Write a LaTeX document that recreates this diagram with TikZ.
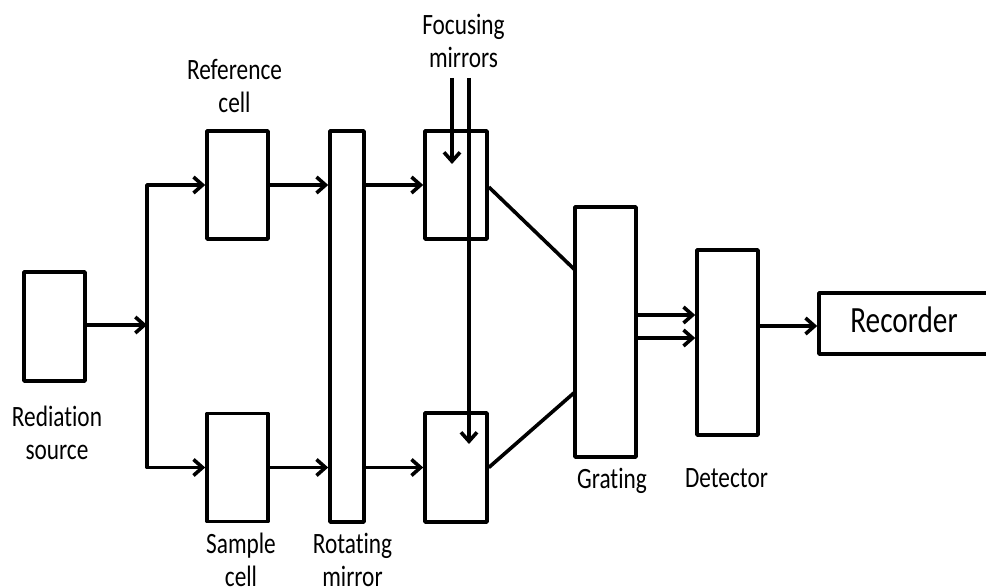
\documentclass[tikz,border=0pt]{standalone}
\usepackage{fontspec}
\setmainfont{Carlito}
\newfontfamily\lf[FakeStretch=0.79,Ligatures=NoCommon]{Carlito}
\usetikzlibrary{arrows.meta}
\newcommand{\twol}[2]{\begin{tabular}[t]{@{}c@{}}#1\\#2\end{tabular}}
\begin{document}
\begin{tikzpicture}[x=1pt,y=-1pt,
  box/.style={draw,line width=3.6pt,rectangle,inner sep=0pt,line join=round},
  arr/.style={line width=3.6pt,-{Straight Barb[length=9pt,width=16pt,line width=3.6pt]}},
  ln/.style={line width=3.6pt},
  lbl/.style={anchor=base,inner sep=0pt,font=\lf\fontsize{29.5}{33}\selectfont}]
\useasboundingbox (0,0) rectangle (986,588);
% boxes
\node[box,minimum width=61pt,minimum height=109pt] (src) at (54.5,326.5) {};
\node[box,minimum width=61pt,minimum height=108pt] (ref) at (237.5,185) {};
\node[box,minimum width=61pt,minimum height=108pt] (samp) at (237.5,467.5) {};
\node[box,minimum width=34pt,minimum height=391pt] (rot) at (347,326.5) {};
\node[box,minimum width=62pt,minimum height=108pt] (fmA) at (456,185) {};
\node[box,minimum width=62pt,minimum height=109pt] (fmB) at (456,467.5) {};
\node[box,minimum width=61pt,minimum height=250pt] (grat) at (605.5,332) {};
\node[box,minimum width=61pt,minimum height=185pt] (det) at (727.5,342.5) {};
\node[box,minimum width=178pt,minimum height=61pt,text height=17pt,text depth=0pt,
      font=\lf\fontsize{37}{40}\selectfont] (rec) at (908,323.5) {\hspace*{-8pt}Recorder};
% split
\coordinate (sp) at (147,325);
\draw[arr] (src.east |- sp) -- (sp);
\draw[arr,line join=round] (sp) |- (ref.west);
\draw[arr,line join=round] (sp) |- (samp.west);
% cells to rotating mirror
\draw[arr] (ref.east) -- (ref.east -| rot.west);
\draw[arr] (samp.east) -- (samp.east -| rot.west);
% rotating mirror to focusing mirrors
\draw[arr] (rot.east |- fmA.west) -- (fmA.west);
\draw[arr] (rot.east |- fmB.west) -- (fmB.west);
% focusing mirror inputs
\coordinate (fa) at (452,78);
\coordinate (fb) at (469,78);
\coordinate (fat) at (452,164);
\coordinate (fbt) at (469,444);
\draw[arr] (fa) -- (fat);
\draw[arr] (fb) -- (fbt);
% to grating
\coordinate (g1) at (575,270);
\coordinate (g2) at (575,392);
\draw[ln] ([yshift=-2pt]fmA.east) -- (g1);
\draw[ln] (fmB.east) -- (g2);
% grating to detector
\coordinate (d1) at (636,315);
\coordinate (d2) at (636,338);
\draw[arr] (d1) -- (d1 -| det.west);
\draw[arr] (d2) -- (d2 -| det.west);
% detector to recorder
\coordinate (r1) at (758,326);
\draw[arr] (r1) -- (r1 -| rec.west);
% labels
\node[lbl] (lfm) at (463.5,35) {\twol{Focusing}{mirrors}};
\node[lbl] (lref) at (234.5,80) {\twol{Reference}{cell}};
\node[lbl] (lsrc) at (57,426) {\twol{Rediation}{source}};
\node[lbl] (lsamp) at (241,553) {\twol{Sample}{cell}};
\node[lbl] (lrot) at (352.5,553) {\twol{Rotating}{mirror}};
\node[lbl] (lgrat) at (612,488) {Grating};
\node[lbl] (ldet) at (726.5,487) {Detector};
\end{tikzpicture}
\end{document}
